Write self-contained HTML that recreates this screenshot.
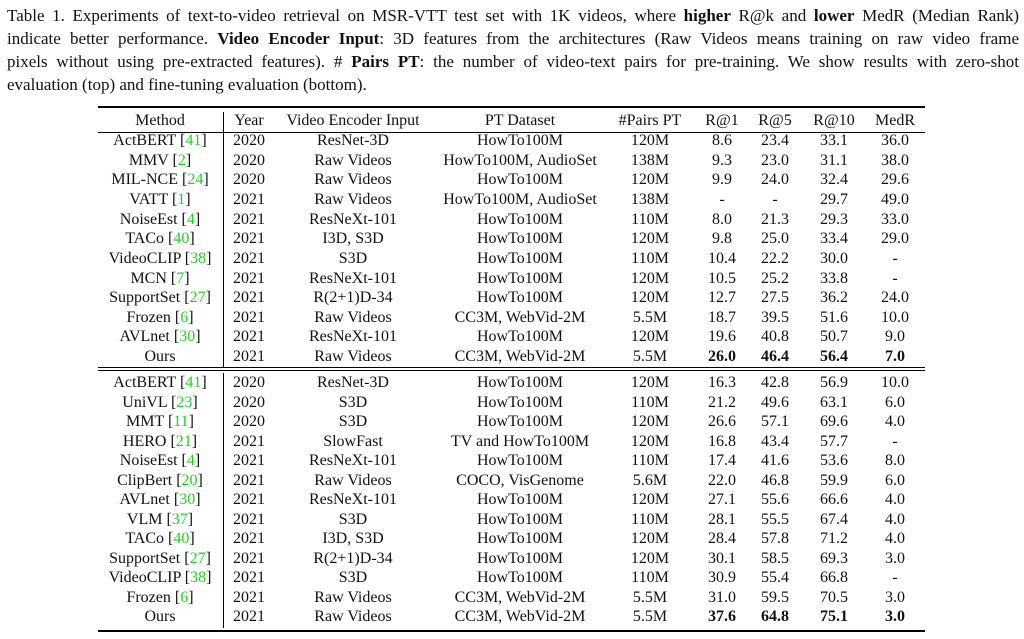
<!DOCTYPE html>
<html><head><meta charset="utf-8"><style>
body{margin:0;width:1024px;height:639px;background:#fff;position:relative;overflow:hidden;font-family:"Liberation Serif",serif;color:#111}
.cap{position:absolute;left:7px;width:1012px;font-size:17px;line-height:23px;text-align:justify;text-align-last:justify;white-space:nowrap}
.r{position:absolute;left:0;width:1024px;height:20px;line-height:20px;font-size:16px}
.r span{position:absolute;width:180px;text-align:center;white-space:nowrap}
.a{left:70px}.b{left:159px}.c{left:263px}.d{left:430px}.e{left:560px}.f{left:632px}.g{left:685px}.h{left:744px}.i{left:805px}
.g2{color:#1dd41d;font-style:normal}
.bo{font-weight:bold}
.hl{position:absolute;left:98px;width:827px;background:#000}
.vl{position:absolute;left:223px;width:1px;background:#000}
</style></head><body>
<div class="cap" style="top:4px">Table 1. Experiments of text-to-video retrieval on MSR-VTT test set with 1K videos, where <b>higher</b> R@k and <b>lower</b> MedR (Median Rank)</div>
<div class="cap" style="top:27px">indicate better performance. <b>Video Encoder Input</b>: 3D features from the architectures (Raw Videos means training on raw video frame</div>
<div class="cap" style="top:50px">pixels without using pre-extracted features). # <b>Pairs PT</b>: the number of video-text pairs for pre-training. We show results with zero-shot</div>
<div class="cap" style="top:73px;text-align-last:left">evaluation (top) and fine-tuning evaluation (bottom).</div>

<div class="hl" style="top:106px;height:2px"></div>
<div class="hl" style="top:132px;height:1px"></div>
<div class="hl" style="top:367px;height:1px"></div>
<div class="hl" style="top:370px;height:1px"></div>
<div class="hl" style="top:630px;height:2px"></div>
<div class="vl" style="top:112px;height:255px"></div>
<div class="vl" style="top:373px;height:255px"></div>

<div class="r" style="top:111px"><span class="a">Method</span><span class="b">Year</span><span class="c">Video Encoder Input</span><span class="d">PT Dataset</span><span class="e">#Pairs PT</span><span class="f">R@1</span><span class="g">R@5</span><span class="h">R@10</span><span class="i">MedR</span></div>

<div class="r" style="top:131px"><span class="a">ActBERT [<i class="g2">41</i>]</span><span class="b">2020</span><span class="c">ResNet-3D</span><span class="d">HowTo100M</span><span class="e">120M</span><span class="f">8.6</span><span class="g">23.4</span><span class="h">33.1</span><span class="i">36.0</span></div>
<div class="r" style="top:150.6px"><span class="a">MMV [<i class="g2">2</i>]</span><span class="b">2020</span><span class="c">Raw Videos</span><span class="d">HowTo100M, AudioSet</span><span class="e">138M</span><span class="f">9.3</span><span class="g">23.0</span><span class="h">31.1</span><span class="i">38.0</span></div>
<div class="r" style="top:170.3px"><span class="a">MIL-NCE [<i class="g2">24</i>]</span><span class="b">2020</span><span class="c">Raw Videos</span><span class="d">HowTo100M</span><span class="e">120M</span><span class="f">9.9</span><span class="g">24.0</span><span class="h">32.4</span><span class="i">29.6</span></div>
<div class="r" style="top:189.9px"><span class="a">VATT [<i class="g2">1</i>]</span><span class="b">2021</span><span class="c">Raw Videos</span><span class="d">HowTo100M, AudioSet</span><span class="e">138M</span><span class="f">-</span><span class="g">-</span><span class="h">29.7</span><span class="i">49.0</span></div>
<div class="r" style="top:209.5px"><span class="a">NoiseEst [<i class="g2">4</i>]</span><span class="b">2021</span><span class="c">ResNeXt-101</span><span class="d">HowTo100M</span><span class="e">110M</span><span class="f">8.0</span><span class="g">21.3</span><span class="h">29.3</span><span class="i">33.0</span></div>
<div class="r" style="top:229.2px"><span class="a">TACo [<i class="g2">40</i>]</span><span class="b">2021</span><span class="c">I3D, S3D</span><span class="d">HowTo100M</span><span class="e">120M</span><span class="f">9.8</span><span class="g">25.0</span><span class="h">33.4</span><span class="i">29.0</span></div>
<div class="r" style="top:248.8px"><span class="a">VideoCLIP [<i class="g2">38</i>]</span><span class="b">2021</span><span class="c">S3D</span><span class="d">HowTo100M</span><span class="e">110M</span><span class="f">10.4</span><span class="g">22.2</span><span class="h">30.0</span><span class="i">-</span></div>
<div class="r" style="top:268.5px"><span class="a">MCN [<i class="g2">7</i>]</span><span class="b">2021</span><span class="c">ResNeXt-101</span><span class="d">HowTo100M</span><span class="e">120M</span><span class="f">10.5</span><span class="g">25.2</span><span class="h">33.8</span><span class="i">-</span></div>
<div class="r" style="top:288.1px"><span class="a">SupportSet [<i class="g2">27</i>]</span><span class="b">2021</span><span class="c">R(2+1)D-34</span><span class="d">HowTo100M</span><span class="e">120M</span><span class="f">12.7</span><span class="g">27.5</span><span class="h">36.2</span><span class="i">24.0</span></div>
<div class="r" style="top:307.8px"><span class="a">Frozen [<i class="g2">6</i>]</span><span class="b">2021</span><span class="c">Raw Videos</span><span class="d">CC3M, WebVid-2M</span><span class="e">5.5M</span><span class="f">18.7</span><span class="g">39.5</span><span class="h">51.6</span><span class="i">10.0</span></div>
<div class="r" style="top:327.4px"><span class="a">AVLnet [<i class="g2">30</i>]</span><span class="b">2021</span><span class="c">ResNeXt-101</span><span class="d">HowTo100M</span><span class="e">120M</span><span class="f">19.6</span><span class="g">40.8</span><span class="h">50.7</span><span class="i">9.0</span></div>
<div class="r" style="top:347px"><span class="a">Ours</span><span class="b">2021</span><span class="c">Raw Videos</span><span class="d">CC3M, WebVid-2M</span><span class="e">5.5M</span><span class="f bo">26.0</span><span class="g bo">46.4</span><span class="h bo">56.4</span><span class="i bo">7.0</span></div>

<div class="r" style="top:373px"><span class="a">ActBERT [<i class="g2">41</i>]</span><span class="b">2020</span><span class="c">ResNet-3D</span><span class="d">HowTo100M</span><span class="e">120M</span><span class="f">16.3</span><span class="g">42.8</span><span class="h">56.9</span><span class="i">10.0</span></div>
<div class="r" style="top:392.5px"><span class="a">UniVL [<i class="g2">23</i>]</span><span class="b">2020</span><span class="c">S3D</span><span class="d">HowTo100M</span><span class="e">110M</span><span class="f">21.2</span><span class="g">49.6</span><span class="h">63.1</span><span class="i">6.0</span></div>
<div class="r" style="top:412px"><span class="a">MMT [<i class="g2">11</i>]</span><span class="b">2020</span><span class="c">S3D</span><span class="d">HowTo100M</span><span class="e">120M</span><span class="f">26.6</span><span class="g">57.1</span><span class="h">69.6</span><span class="i">4.0</span></div>
<div class="r" style="top:431.5px"><span class="a">HERO [<i class="g2">21</i>]</span><span class="b">2021</span><span class="c">SlowFast</span><span class="d">TV and HowTo100M</span><span class="e">120M</span><span class="f">16.8</span><span class="g">43.4</span><span class="h">57.7</span><span class="i">-</span></div>
<div class="r" style="top:451px"><span class="a">NoiseEst [<i class="g2">4</i>]</span><span class="b">2021</span><span class="c">ResNeXt-101</span><span class="d">HowTo100M</span><span class="e">110M</span><span class="f">17.4</span><span class="g">41.6</span><span class="h">53.6</span><span class="i">8.0</span></div>
<div class="r" style="top:470.5px"><span class="a">ClipBert [<i class="g2">20</i>]</span><span class="b">2021</span><span class="c">Raw Videos</span><span class="d">COCO, VisGenome</span><span class="e">5.6M</span><span class="f">22.0</span><span class="g">46.8</span><span class="h">59.9</span><span class="i">6.0</span></div>
<div class="r" style="top:490px"><span class="a">AVLnet [<i class="g2">30</i>]</span><span class="b">2021</span><span class="c">ResNeXt-101</span><span class="d">HowTo100M</span><span class="e">120M</span><span class="f">27.1</span><span class="g">55.6</span><span class="h">66.6</span><span class="i">4.0</span></div>
<div class="r" style="top:509.5px"><span class="a">VLM [<i class="g2">37</i>]</span><span class="b">2021</span><span class="c">S3D</span><span class="d">HowTo100M</span><span class="e">110M</span><span class="f">28.1</span><span class="g">55.5</span><span class="h">67.4</span><span class="i">4.0</span></div>
<div class="r" style="top:529px"><span class="a">TACo [<i class="g2">40</i>]</span><span class="b">2021</span><span class="c">I3D, S3D</span><span class="d">HowTo100M</span><span class="e">120M</span><span class="f">28.4</span><span class="g">57.8</span><span class="h">71.2</span><span class="i">4.0</span></div>
<div class="r" style="top:548.5px"><span class="a">SupportSet [<i class="g2">27</i>]</span><span class="b">2021</span><span class="c">R(2+1)D-34</span><span class="d">HowTo100M</span><span class="e">120M</span><span class="f">30.1</span><span class="g">58.5</span><span class="h">69.3</span><span class="i">3.0</span></div>
<div class="r" style="top:568px"><span class="a">VideoCLIP [<i class="g2">38</i>]</span><span class="b">2021</span><span class="c">S3D</span><span class="d">HowTo100M</span><span class="e">110M</span><span class="f">30.9</span><span class="g">55.4</span><span class="h">66.8</span><span class="i">-</span></div>
<div class="r" style="top:587.5px"><span class="a">Frozen [<i class="g2">6</i>]</span><span class="b">2021</span><span class="c">Raw Videos</span><span class="d">CC3M, WebVid-2M</span><span class="e">5.5M</span><span class="f">31.0</span><span class="g">59.5</span><span class="h">70.5</span><span class="i">3.0</span></div>
<div class="r" style="top:607px"><span class="a">Ours</span><span class="b">2021</span><span class="c">Raw Videos</span><span class="d">CC3M, WebVid-2M</span><span class="e">5.5M</span><span class="f bo">37.6</span><span class="g bo">64.8</span><span class="h bo">75.1</span><span class="i bo">3.0</span></div>
</body></html>
